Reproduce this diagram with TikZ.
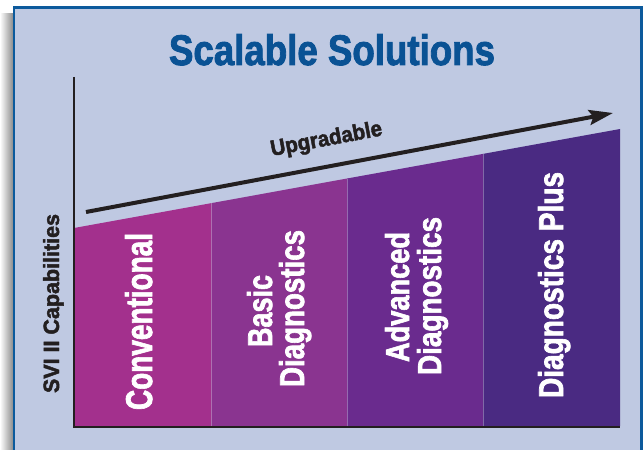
\documentclass[tikz,border=0pt]{standalone}
\usepackage{fontspec}
\usepackage{graphicx}
\newfontfamily\hv{Liberation Sans}[BoldFeatures={FakeBold=2.2}]
\usetikzlibrary{arrows.meta}
\definecolor{panelfill}{HTML}{BFC9E2}
\definecolor{panelborder}{HTML}{0C5A9C}
\definecolor{titleblue}{HTML}{0A5294}
\definecolor{ink}{HTML}{231F20}
\definecolor{barA}{HTML}{A3308D}
\definecolor{barB}{HTML}{8A3490}
\definecolor{barC}{HTML}{6A2B8E}
\definecolor{barD}{HTML}{4A2A82}
\newcommand{\fitbox}[3]{\resizebox{#1pt}{#2pt}{\hv\bfseries #3}}
\begin{document}
\begin{tikzpicture}[x=1pt,y=-1pt,
  txt/.style={inner sep=0pt, outer sep=0pt, anchor=base west},
  vlbl/.style={txt, rotate=90, text=white},
  divider/.style={white, opacity=0.3, line width=0.8pt},
  axis/.style={ink, line width=2pt}]
\useasboundingbox (0,0) rectangle (644,449);
\fill[white] (0,0) rectangle (644,449);
\shade[left color=white, right color=black!45] (0,14) rectangle (13,449);
\draw[panelborder, line width=2.5pt, fill=panelfill] (14,7.5) rectangle (641.5,470);
% title
\node[txt, anchor=base, text=titleblue] (title) at (332,65) {\fitbox{326}{31}{Scalable Solutions}};
% bars
\fill[barA] (74,426) -- (74,228) -- (211,203.2) -- (211,426) -- cycle;
\fill[barB] (211,426) -- (211,203.2) -- (347,178.5) -- (347,426) -- cycle;
\fill[barC] (347,426) -- (347,178.5) -- (483,153.9) -- (483,426) -- cycle;
\fill[barD] (483,426) -- (483,153.9) -- (620,129) -- (620,426) -- cycle;
\draw[divider] (211,203.2) -- (211,426);
\draw[divider] (347,178.5) -- (347,426);
\draw[divider] (483,153.9) -- (483,426);
% axes
\draw[axis] (74,77) -- (74,427) -- (619.5,427);
% arrow
\coordinate (arrS) at (86,212);
\coordinate (arrE) at (613,113);
\draw[ink, line width=4pt, -{Stealth[length=24pt, width=15pt, inset=4pt]}] (arrS) -- (arrE);
\node[txt, rotate=10.6, text=ink] (upg) at (272,156) {\fitbox{113}{16}{Upgradable}};
% y label
\node[vlbl, text=ink] (ylab) at (59,393) {\fitbox{179}{16}{SVI II Capabilities}};
% bar labels
\node[vlbl] (conv) at (152,410) {\fitbox{177}{27}{Conventional}};
\node[vlbl] (basic1) at (272,347) {\fitbox{72}{25}{Basic}};
\node[vlbl] (basic2) at (304,387) {\fitbox{157}{25}{Diagnostics}};
\node[vlbl] (adv1) at (409,362) {\fitbox{130}{24}{Advanced}};
\node[vlbl] (adv2) at (441,375) {\fitbox{158}{24}{Diagnostics}};
\node[vlbl] (plus) at (563,398) {\fitbox{226}{25}{Diagnostics Plus}};
\end{tikzpicture}
\end{document}
